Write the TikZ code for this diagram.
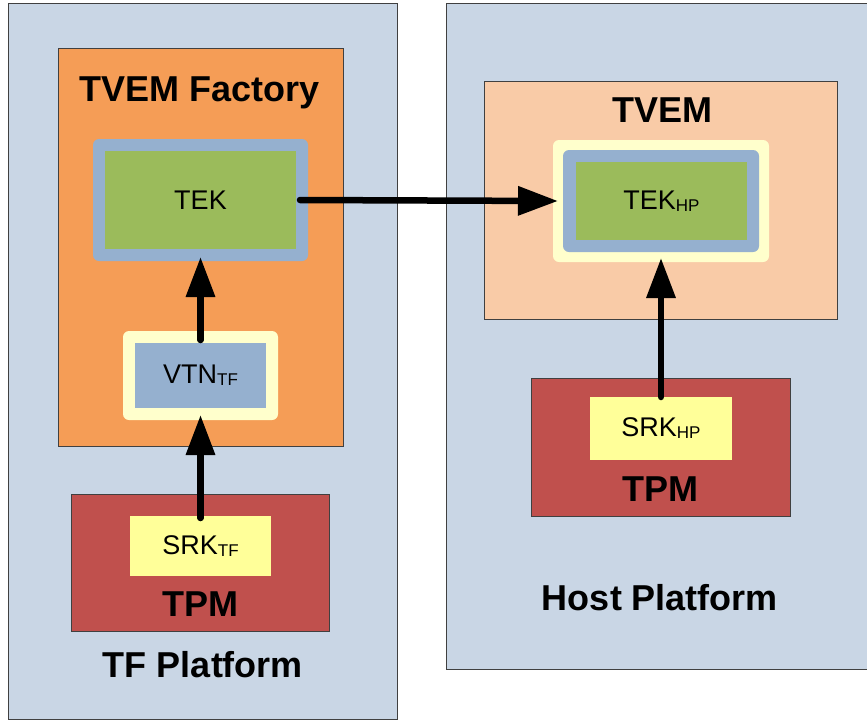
\documentclass[tikz,border=0pt]{standalone}
\usepackage{fontspec}
\setmainfont{Liberation Sans}
\usetikzlibrary{arrows.meta}
\definecolor{platbg}{HTML}{C9D6E5}
\definecolor{orangebg}{HTML}{F59D56}
\definecolor{peachbg}{HTML}{F9CBA7}
\definecolor{bluegray}{HTML}{95B0CF}
\definecolor{keygreen}{HTML}{9BBB5B}
\definecolor{paleyel}{HTML}{FFFFCC}
\definecolor{srkyel}{HTML}{FFFF99}
\definecolor{tpmred}{HTML}{C0504D}
\definecolor{edge}{HTML}{404040}
\tikzset{
  box/.style={draw=edge, line width=1pt, inner sep=0pt, outer sep=0pt},
  plain/.style={inner sep=0pt, outer sep=0pt},
  keytext/.style={font=\fontsize{27}{27}\selectfont},
  title/.style={font=\bfseries\fontsize{36}{36}\selectfont, inner sep=0pt},
  arr/.style={line width=6.5pt, line cap=round, -{Triangle[length=40pt,width=28pt]}, black},
}
\newcommand{\subtxt}[1]{\raisebox{-2pt}{\fontsize{17}{17}\selectfont #1}}
\begin{document}
\begin{tikzpicture}[x=1pt,y=-1pt]
\useasboundingbox (0,0) rectangle (867,721);
\clip (0,0) rectangle (867,721);
\fill[white] (0,0) rectangle (867,721);
% left platform
\node[box, fill=platbg, minimum width=389pt, minimum height=716pt] (tfplat) at (202.5,361) {};
\node[box, fill=orangebg, minimum width=285pt, minimum height=398pt] (factory) at (200.5,247) {};
\node[title] (factorylbl) at (200,93) {TVEM Factory};
\node[plain, fill=bluegray, rounded corners=6pt, minimum width=215pt, minimum height=122pt] (tekout) at (200.5,200) {};
\node[plain, fill=keygreen, minimum width=191pt, minimum height=98pt, keytext] (tek) at (200.5,200) {TEK};
\node[plain, fill=paleyel, rounded corners=6pt, minimum width=155pt, minimum height=89pt] (vtnout) at (200.5,375.5) {};
\node[plain, fill=bluegray, minimum width=131pt, minimum height=65pt, keytext] (vtn) at (200.5,375.5) {VTN\subtxt{TF}};
\node[box, fill=tpmred, minimum width=258pt, minimum height=137pt] (tpmtf) at (200,562.5) {};
\node[plain, fill=srkyel, minimum width=141pt, minimum height=60pt, keytext] (srktf) at (200.5,546) {SRK\subtxt{TF}};
\node[title] (tpmtflbl) at (200,604) {TPM};
\node[title] (tfplatlbl) at (203,665) {TF Platform};
% right platform
\node[box, fill=platbg, minimum width=424pt, minimum height=666pt, anchor=north west] (hostplat) at (446,3) {};
\node[box, fill=peachbg, minimum width=353pt, minimum height=238pt] (tvem) at (660.5,200) {};
\node[title] (tvemlbl) at (662,110) {TVEM};
\node[plain, fill=paleyel, rounded corners=6pt, minimum width=216pt, minimum height=122pt] (tekhpout) at (661,201) {};
\node[plain, fill=bluegray, rounded corners=6pt, minimum width=196pt, minimum height=102pt] (tekhpmid) at (661,201) {};
\node[plain, fill=keygreen, minimum width=171pt, minimum height=78pt, keytext] (tekhp) at (661.5,201) {TEK\subtxt{HP}};
\node[box, fill=tpmred, minimum width=259pt, minimum height=138pt] (tpmhp) at (660.5,447) {};
\node[plain, fill=srkyel, minimum width=142pt, minimum height=63pt, keytext] (srkhp) at (661,428.5) {SRK\subtxt{HP}};
\node[title] (tpmhplbl) at (660,489) {TPM};
\node[title] (hostlbl) at (660,598) {Host Platform};
% arrows
\draw[arr] ([xshift=4pt]tek.east) -- ([xshift=5pt]tekhpout.west);
\draw[arr] ([yshift=3pt]vtn.north) -- ([yshift=4pt]tekout.south);
\draw[arr] ([yshift=-2pt]srktf.north) -- ([yshift=5pt]vtnout.south);
\draw[arr] (srkhp.north) -- ([yshift=4pt]tekhpout.south);
\end{tikzpicture}
\end{document}
